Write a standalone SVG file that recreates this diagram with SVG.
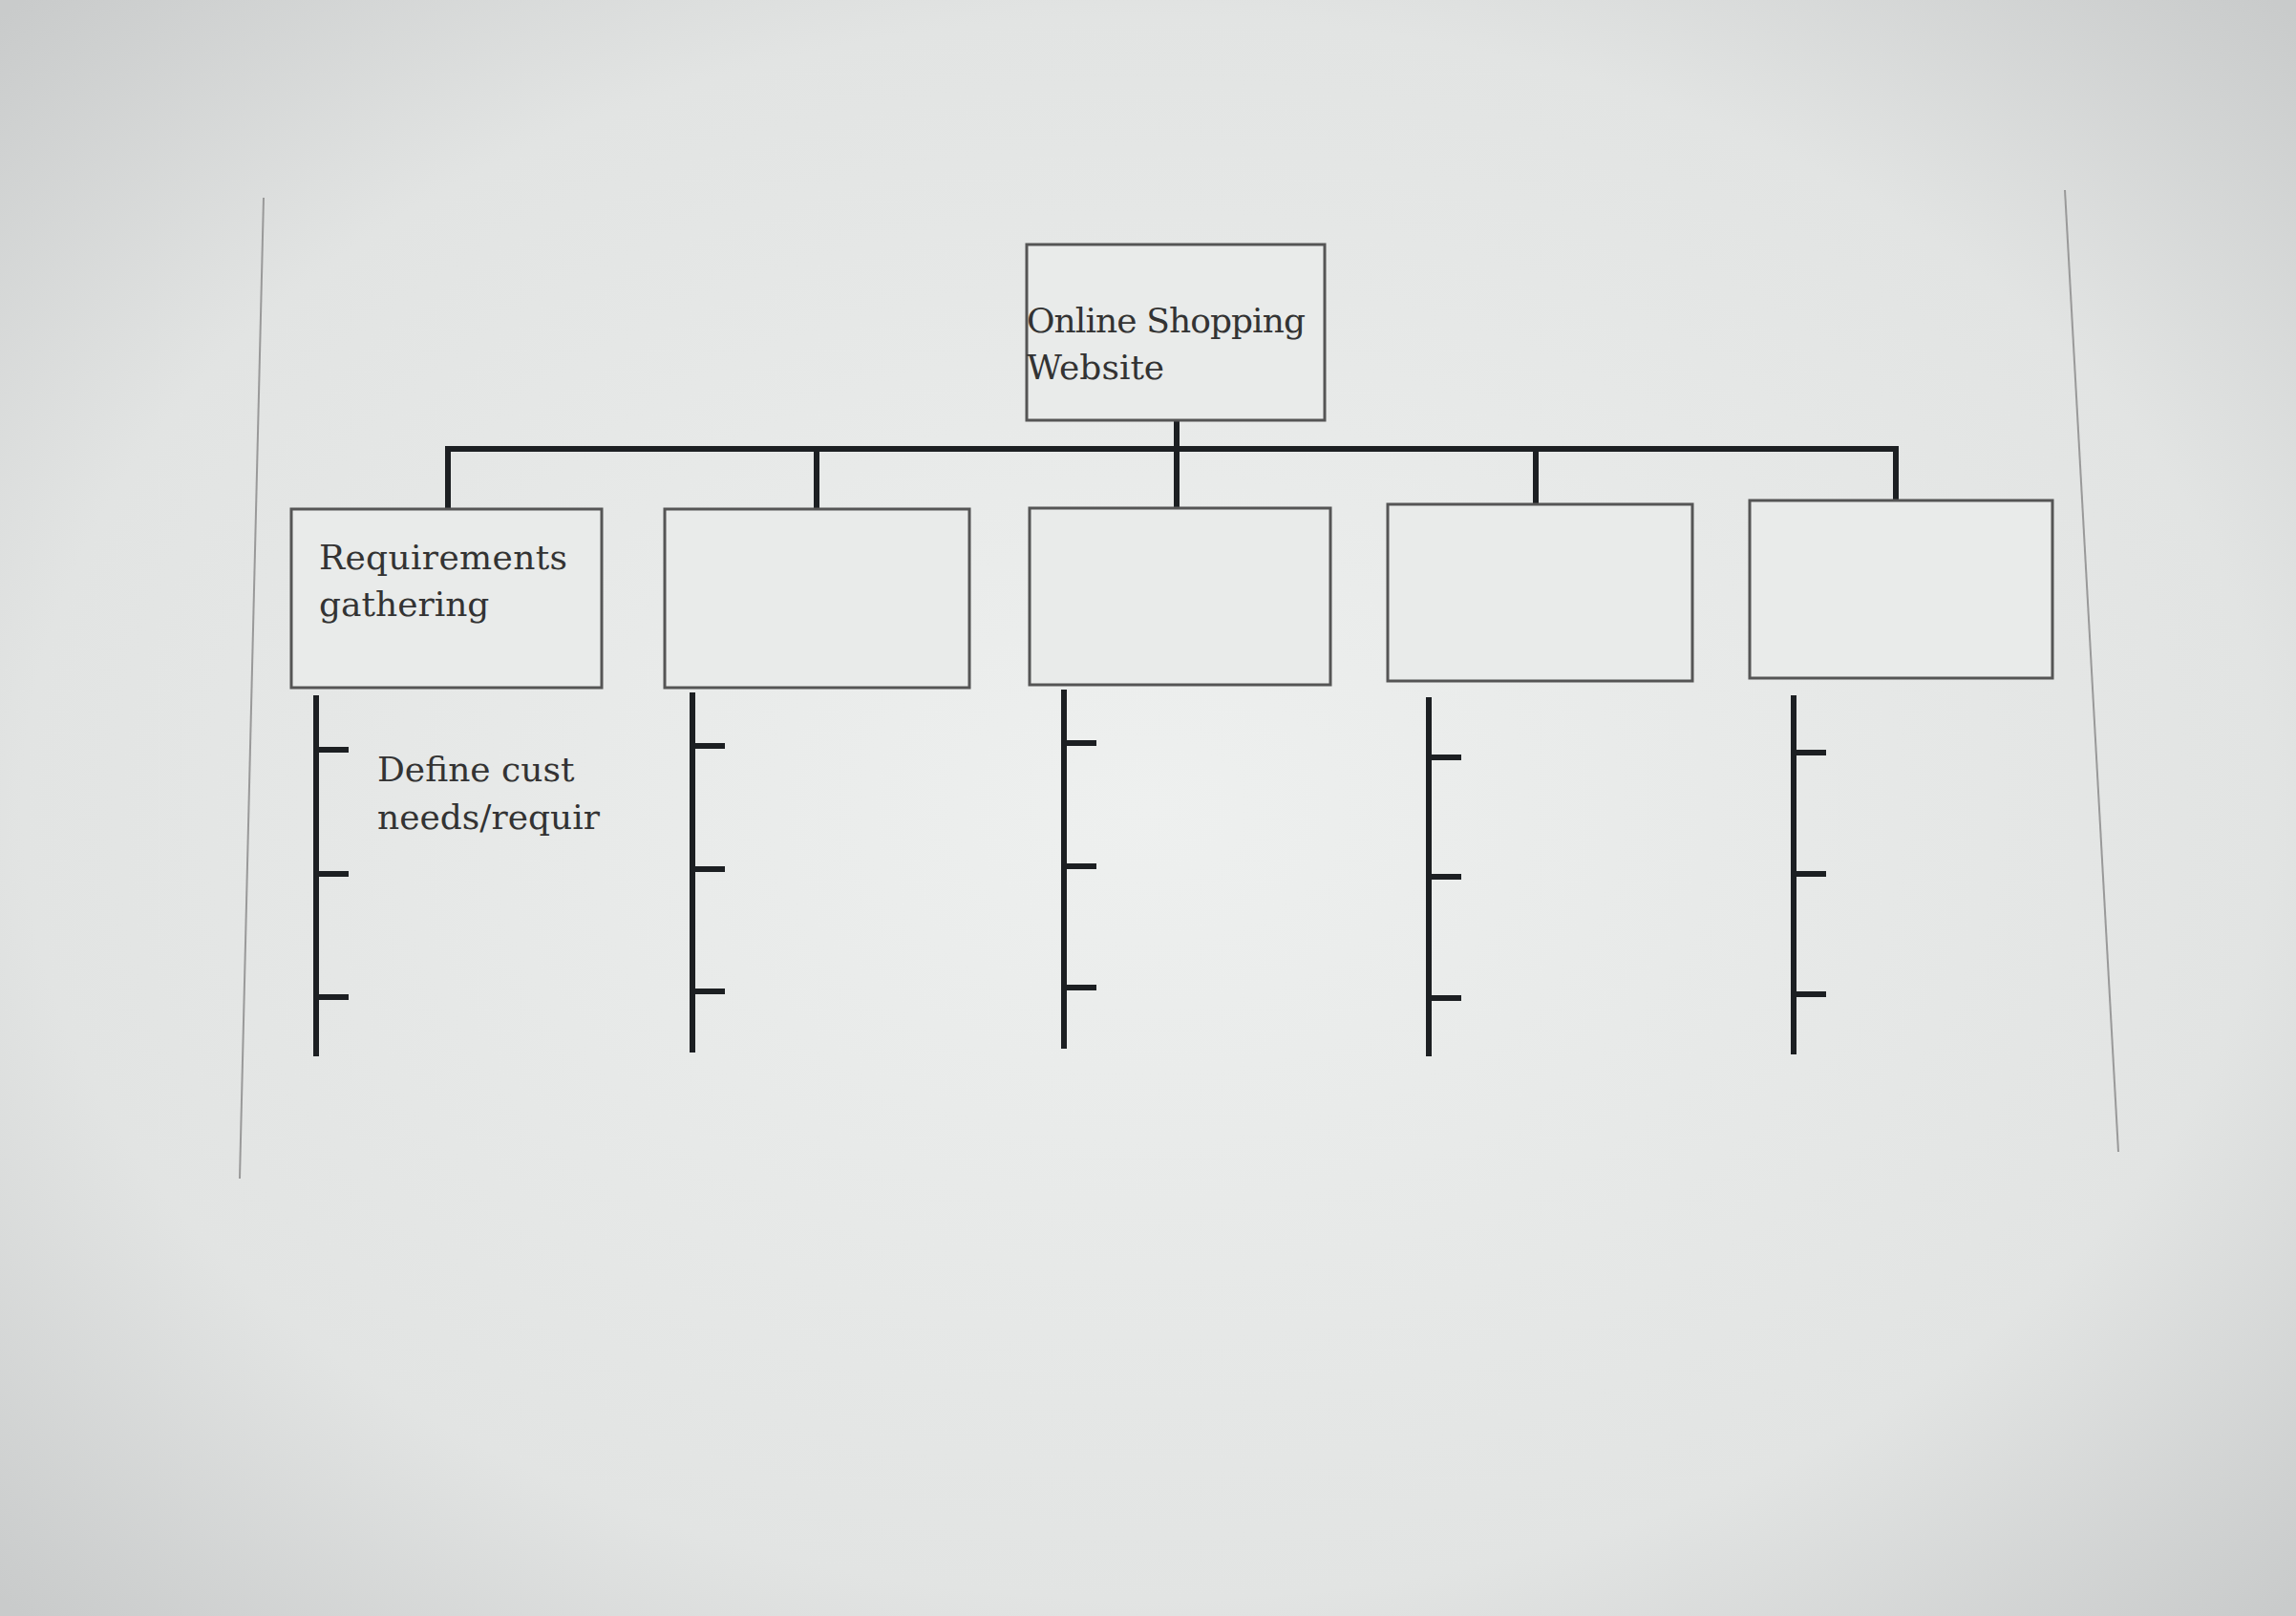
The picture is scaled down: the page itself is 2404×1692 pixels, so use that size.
<svg xmlns="http://www.w3.org/2000/svg" width="2404" height="1692" viewBox="0 0 2404 1692">
<defs>
<radialGradient id="bg" cx="0.5" cy="0.5" r="0.7">
<stop offset="0" stop-color="#eef0ef"/><stop offset="0.7" stop-color="#e2e4e3"/><stop offset="1" stop-color="#c9cbcb"/>
</radialGradient>
<style>
.box{fill:#e9ebea;stroke:#555;stroke-width:3}
.ln{stroke:#1c1f22;stroke-width:6;fill:none}
.t{font-family:"DejaVu Serif","Liberation Serif",serif;font-size:36px;fill:#333}
</style>
</defs>
<rect width="2404" height="1692" fill="url(#bg)"/>
<line x1="276" y1="207" x2="251" y2="1234" stroke="#999" stroke-width="2"/>
<line x1="2162" y1="199" x2="2218" y2="1206" stroke="#999" stroke-width="2"/>
<g id="connectors">
<path class="ln" d="M1232 440V533M469 533V470H1985V533M855 470V533M1608 470V533"/>
<path class="ln" d="M331 728V1106M331 785h34M331 915h34M331 1044h34"/>
<path class="ln" d="M725 725V1102M725 781h34M725 910h34M725 1038h34"/>
<path class="ln" d="M1114 722V1098M1114 778h34M1114 907h34M1114 1034h34"/>
<path class="ln" d="M1496 730V1106M1496 793h34M1496 918h34M1496 1045h34"/>
<path class="ln" d="M1878 728V1104M1878 788h34M1878 915h34M1878 1041h34"/>
</g>
<g id="root"><rect class="box" x="1075" y="256" width="312" height="184"/>
<text class="t" x="1075" y="348" textLength="292">Online Shopping</text><text class="t" x="1075" y="397">Website</text></g>
<g id="n1"><rect class="box" x="305" y="533" width="325" height="187"/>
<text class="t" x="334" y="596" textLength="260">Requirements</text><text class="t" x="334" y="645">gathering</text></g>
<g id="n2"><rect class="box" x="696" y="533" width="319" height="187"/></g>
<g id="n3"><rect class="box" x="1078" y="532" width="315" height="185"/></g>
<g id="n4"><rect class="box" x="1453" y="528" width="319" height="185"/></g>
<g id="n5"><rect class="box" x="1832" y="524" width="317" height="186"/></g>
<g id="leaf"><text class="t" x="395" y="818">Define cust</text><text class="t" x="395" y="868">needs/requir</text></g>
</svg>
